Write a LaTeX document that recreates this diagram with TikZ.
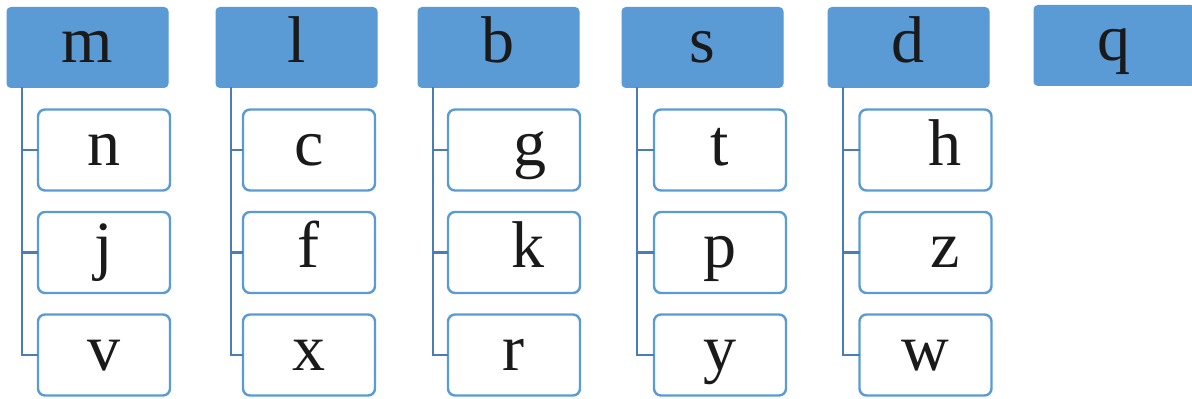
\documentclass[tikz,border=0pt]{standalone}
\usepackage{fontspec}
\setmainfont{Liberation Serif}
\newlength{\du}
\setlength{\du}{0.025cm}
\definecolor{headfill}{HTML}{5B9BD5}
\definecolor{boxline}{HTML}{5B9BD5}
\definecolor{treeline}{HTML}{4A7DB5}
\definecolor{letter}{HTML}{1A1A1A}
\tikzset{
  head/.style={fill=headfill,draw=headfill,line width=1\du,rounded corners=4\du,
    minimum width=161\du,minimum height=80\du,inner sep=0pt,outer sep=0pt,text=letter,
    font=\fontsize{47}{49}\selectfont,text height=22pt,text depth=0pt},
  item/.style={fill=white,draw=boxline,line width=2.4\du,rounded corners=7\du,
    minimum width=132\du,minimum height=81\du,inner sep=0pt,outer sep=0pt,text=letter,
    font=\fontsize{47}{49}\selectfont,text height=22pt,text depth=0pt},
  branch/.style={draw=treeline,line width=2.2\du}
}
\begin{document}
\begin{tikzpicture}
\pgftransformyscale{-1.000000}
\useasboundingbox (0\du,0\du) rectangle (1192\du,399\du);
% headers
\node[head] (m) at (87.5\du,47.5\du){m};
\node[head] (l) at (296.5\du,47.5\du){l};
\node[head] (b) at (498.5\du,47.5\du){b};
\node[head] (s) at (702.5\du,47.5\du){s};
\node[head] (d) at (908.5\du,47.5\du){d};
\node[head] (q) at (1114.5\du,45.5\du){q};
% items under m
\node[item] (n) at (104\du,150\du){n};
\node[item] (j) at (104\du,252.5\du){j};
\node[item] (v) at (104\du,355\du){v};
% items under l
\node[item] (c) at (309\du,150\du){c};
\node[item] (f) at (309\du,252.5\du){f};
\node[item] (x) at (309\du,355\du){x};
% items under b
\node[item] (g) at (514\du,150\du){\hspace*{23pt}g};
\node[item] (k) at (514\du,252.5\du){\hspace*{20pt}k};
\node[item] (r) at (514\du,355\du){r};
% items under s
\node[item] (t) at (720\du,150\du){t};
\node[item] (p) at (720\du,252.5\du){p};
\node[item] (y) at (720\du,355\du){y};
% items under d
\node[item] (h) at (925.5\du,150\du){\hspace*{28pt}h};
\node[item] (z) at (925.5\du,252.5\du){\hspace*{28pt}z};
\node[item] (w) at (925.5\du,355\du){w};
% tree lines
\foreach \top/\a/\b/\c in {m/n/j/v,l/c/f/x,b/g/k/r,s/t/p/y,d/h/z/w}{
  \draw[branch] ([xshift=15\du]\top.south west) |- (\c.west);
  \draw[branch] ([xshift=15\du]\top.south west) |- (\b.west);
  \draw[branch] ([xshift=15\du]\top.south west) |- (\a.west);
}
\end{tikzpicture}
\end{document}
